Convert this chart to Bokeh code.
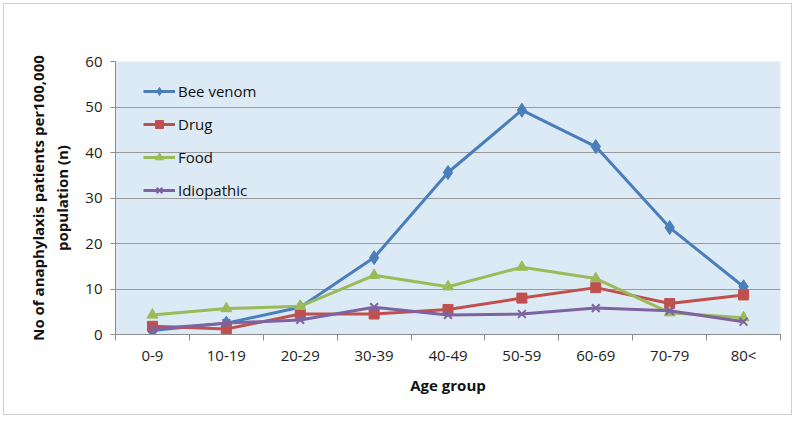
from bokeh.plotting import figure
from bokeh.models import FixedTicker, Legend, LegendItem, Range1d
from bokeh.embed import file_html
from bokeh.resources import INLINE

categories = ["0-9", "10-19", "20-29", "30-39", "40-49", "50-59", "60-69", "70-79", "80<"]
bee_venom = [0.9, 2.5, 6.0, 16.9, 35.6, 49.3, 41.3, 23.5, 10.5]
drug = [1.8, 1.2, 4.5, 4.5, 5.5, 8.0, 10.3, 6.8, 8.7]
food = [4.3, 5.7, 6.2, 13.0, 10.5, 14.8, 12.3, 4.8, 3.7]
idiopathic = [1.2, 2.5, 3.2, 6.0, 4.3, 4.5, 5.8, 5.2, 2.8]
y_ticks = [0, 10, 20, 30, 40, 50, 60]

xs = [i + 0.5 for i in range(len(categories))]
FONT = "Open Sans"

p = figure(width=789, height=412, output_backend="svg", toolbar_location=None,
           x_range=Range1d(0, len(categories)), y_range=Range1d(0, 60),
           min_border_left=111, min_border_right=13, min_border_top=57, min_border_bottom=82)
p.background_fill_color = "#dbeaf4"
p.border_fill_color = "white"
p.outline_line_color = None
p.styles = {"margin": "3px", "border": "1px solid #cfcfcf"}

# x axis
p.xaxis.ticker = FixedTicker(ticks=xs, minor_ticks=list(range(len(categories) + 1)))
p.xaxis.major_label_overrides = {x: c for x, c in zip(xs, categories)}
p.xaxis.major_tick_line_color = None
p.xaxis.minor_tick_out = 6
p.xaxis.minor_tick_in = 0
p.xaxis.minor_tick_line_color = "#8c8c8c"
p.xaxis.axis_line_color = "#8c8c8c"
p.xaxis.major_label_text_font = FONT
p.xaxis.major_label_text_font_size = "15px"
p.xaxis.major_label_text_color = "#222222"
p.xaxis.major_label_standoff = 4
p.xaxis.axis_label = "Age group"
p.xaxis.axis_label_text_font = FONT
p.xaxis.axis_label_text_font_style = "bold"
p.xaxis.axis_label_text_font_size = "15px"
p.xaxis.axis_label_text_color = "#111111"
p.xaxis.axis_label_standoff = 7

# y axis
p.yaxis.ticker = FixedTicker(ticks=y_ticks)
p.yaxis.minor_tick_line_color = None
p.yaxis.major_tick_out = 5
p.yaxis.major_tick_in = 0
p.yaxis.major_tick_line_color = "#8c8c8c"
p.yaxis.axis_line_color = "#8c8c8c"
p.yaxis.major_label_text_font = FONT
p.yaxis.major_label_text_font_size = "15px"
p.yaxis.major_label_text_color = "#222222"
p.yaxis.major_label_standoff = 8
p.yaxis.axis_label = "No of anaphylaxis patients per100,000\npopulation (n)"
p.yaxis.axis_label_text_font = FONT
p.yaxis.axis_label_text_font_style = "bold"
p.yaxis.axis_label_text_font_size = "15px"
p.yaxis.axis_label_text_color = "#111111"
p.yaxis.axis_label_standoff = 10

p.xgrid.grid_line_color = None
p.ygrid.grid_line_color = "#9a9a9a"
p.ygrid.grid_line_width = 1.2

series = [
    ("Bee venom", bee_venom, "#4a7ebb", "diamond", 14),
    ("Drug", drug, "#c0504d", "square", 10),
    ("Food", food, "#9bbb59", "triangle", 11),
    ("Idiopathic", idiopathic, "#7f63a1", "x", 11),
]
items = []
for name, vals, color, marker, size in series:
    r1 = p.line(xs, vals, line_color=color, line_width=3)
    r2 = p.scatter(xs, vals, marker=marker, size=size, fill_color=color,
                   line_color=color, line_width=2 if marker == "x" else 1)
    items.append(LegendItem(label=name, renderers=[r1, r2]))

legend = Legend(items=items, location=(28, 134), padding=0, margin=0,
                glyph_width=32, glyph_height=20, label_height=20, spacing=13,
                label_standoff=3, label_text_font=FONT, label_text_font_size="15px",
                label_text_color="#111111", background_fill_alpha=0, border_line_color=None)
p.add_layout(legend, "center")

open("out.html", "w").write(file_html(p, INLINE))
